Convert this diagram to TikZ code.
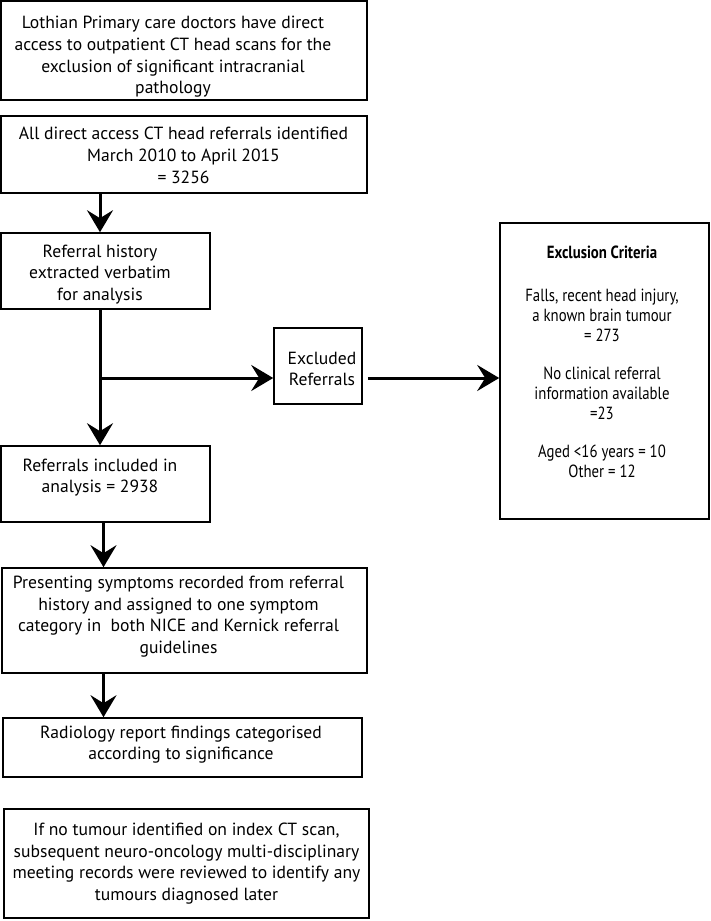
\documentclass[tikz,border=0pt]{standalone}
\usepackage{fontspec}
\setmainfont{PT Sans}
\newfontfamily\critfont[FakeStretch=0.84]{PT Sans}
\usetikzlibrary{arrows.meta}
\tikzset{
  box/.style={draw, line width=1.6pt, inner sep=0pt},
  txt/.style={align=center, inner sep=0pt, font=\fontsize{17.6pt}{21.7pt}\selectfont},
  crittxt/.style={align=center, inner sep=0pt, font=\critfont\fontsize{17.6pt}{20pt}\selectfont},
  arr/.style={line width=3pt, -{Stealth[length=22pt 0,width=26pt 0,inset=8pt 0]}}
}
\begin{document}
\begin{tikzpicture}[x=1pt,y=-1pt]
\useasboundingbox (0,0) rectangle (710,921);
% boxes
\node[box, minimum width=366pt, minimum height=99pt] (b1) at (184,50.5) {};
\node[txt] (b1t) at (173,57) {Lothian Primary care doctors have direct\\access to outpatient CT head scans for the\\exclusion of significant intracranial\\pathology};
\node[box, minimum width=366pt, minimum height=77pt] (b2) at (184,154.5) {};
\node[txt] (b2t) at (183.5,155.5) {All direct access CT head referrals identified\\March 2010 to April 2015\\= 3256};
\node[box, minimum width=209pt, minimum height=76pt] (b3) at (105.5,271) {};
\node[txt] (b3t) at (100,274.5) {Referral history\\extracted verbatim\\for analysis};
\node[box, minimum width=88pt, minimum height=76pt] (ex) at (318,366) {};
\node[txt] (ext) at (322,369) {Excluded\\Referrals};
\node[box, minimum width=209pt, minimum height=76pt] (b4) at (105.5,484) {};
\node[txt] (b4t) at (100,477.5) {Referrals included in\\analysis = 2938};
\node[box, minimum width=209pt, minimum height=296pt] (crit) at (604.5,371) {};
\node[crittxt] (critt) at (602,362) {\textbf{Exclusion Criteria}\\[23pt]Falls, recent head injury,\\a known brain tumour\\= 273\\[18pt]No clinical referral\\information available\\=23\\[18pt]Aged <16 years = 10\\Other = 12};
\node[box, minimum width=365pt, minimum height=105pt] (b5) at (184.5,620.5) {};
\node[txt] (b5t) at (178.5,616.5) {Presenting symptoms recorded from referral\\history and assigned to one symptom\\category in\ \ both NICE and Kernick referral\\guidelines};
\node[box, minimum width=359pt, minimum height=59pt] (b6) at (182.5,747.5) {};
\node[txt] (b6t) at (181,744.5) {Radiology report findings categorised\\according to significance};
\node[box, minimum width=365pt, minimum height=109pt] (b7) at (186.5,863.5) {};
\node[txt] (b7t) at (186.5,863.5) {If no tumour identified on index CT scan,\\subsequent neuro-oncology multi-disciplinary\\meeting records were reviewed to identify any\\tumours diagnosed later};
% connectors
\coordinate (cx) at (100,0);
\coordinate (cy) at (103.5,0);
\coordinate (br) at (100,378);
\draw[arr] (b2.south -| cx) -- (b3.north -| cx);
\draw[arr] (b3.south -| cx) -- (b4.north -| cx);
\draw[arr] (br) -- (br -| ex.west);
\draw[arr] ([xshift=5pt]br -| ex.east) -- (br -| crit.west);
\draw[arr] (b4.south -| cy) -- (b5.north -| cy);
\draw[arr] (b5.south -| cy) -- (b6.north -| cy);
\end{tikzpicture}
\end{document}
